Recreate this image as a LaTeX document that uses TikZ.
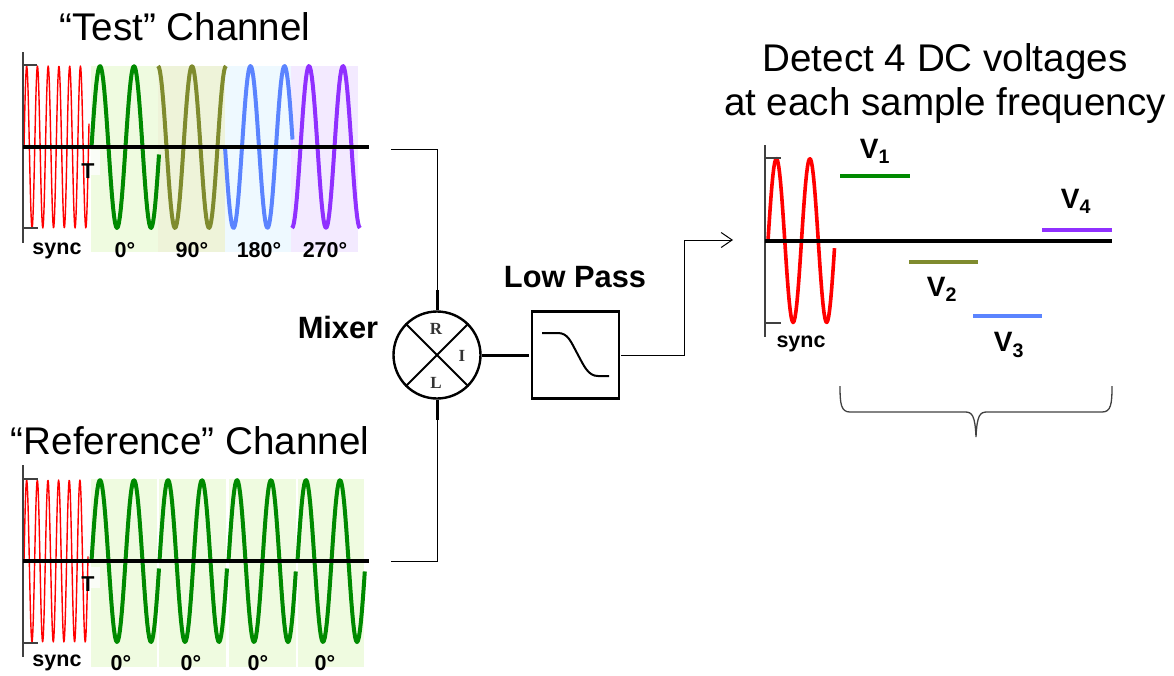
\documentclass[tikz,border=0pt]{standalone}
\usepackage{fontspec}
\setmainfont{Liberation Sans}
\newfontfamily\portfont{Liberation Serif}
\usetikzlibrary{arrows.meta,positioning}
\definecolor{wgreen}{HTML}{008A00}
\definecolor{wolive}{HTML}{7F8B2E}
\definecolor{wblue}{HTML}{5B84FF}
\definecolor{wpurple}{HTML}{9030FF}
\definecolor{bgreen}{HTML}{EFFBE0}
\definecolor{bolive}{HTML}{EEF3D9}
\definecolor{bblue}{HTML}{EEF9FF}
\definecolor{bpurple}{HTML}{F3EAFF}
\definecolor{axgray}{HTML}{404040}

\begin{document}
\begin{tikzpicture}[x=1pt,y=-1pt,
	title/.style = {font=\fontsize{38.6}{38.6}\selectfont, inner sep=0pt},
	head/.style = {font=\fontsize{30.8}{30.8}\selectfont\bfseries, inner sep=0pt},
	tag/.style = {font=\fontsize{21.5}{21.5}\selectfont\bfseries, inner sep=0pt},
	volt/.style = {font=\fontsize{28}{28}\selectfont\bfseries, inner sep=0pt},
	port/.style = {font=\fontsize{17}{17}\selectfont\portfont\bfseries, text=black!80, inner sep=0pt},
	wave/.style = {line width=4pt, line join=round},
	sync/.style = {red, line width=1.4pt, line join=round},
	axisv/.style = {axgray, line width=1.5pt},
	axish/.style = {black, line width=4pt},
	wire/.style = {black, line width=1pt},
	stub/.style = {black, line width=3pt},
	level/.style = {line width=3.8pt},
	mixer/.style = {circle, draw=black, line width=2.4pt, minimum size=87pt, inner sep=0pt},
	filter/.style = {rectangle, draw=black, line width=2.4pt, minimum size=87pt, inner sep=0pt},
]
\useasboundingbox (0,0) rectangle (1174,675);

% test channel
\foreach \xa/\xb/\col in {91/158/bgreen,158/225/bolive,225/291/bblue,291/358/bpurple}
	\fill[\col] (\xa,66) rectangle (\xb,252);
\fill[white,opacity=.75] (76,150) rectangle (100,175);
\draw[sync] plot[domain=24:89,samples=160] (\x,{147-81*sin((\x-24)/10.75*360)});
\foreach \xa/\xb/\ph/\col in {91.5/159/0/wgreen,158/226/90/wolive,225/292.5/180/wblue,292/360/270/wpurple}
	\draw[wave,\col] plot[domain=\xa:\xb,samples=70] (\x,{147-81*sin((\x-\xa)/34*360+\ph)});
\draw[axisv] (23,52) -- (23,243);
\draw[axisv] (23,65) -- (37,65);
\draw[axisv] (23,228) -- (38,228);
\draw[axish] (23,147) -- (369,147);
\node[tag] (testT) at (88,171) {T};
\node[tag] (testsync) at (57,251) {sync};
\foreach \xa/\lab/\nm in {125/0/a,192/90/b,259/180/c,325/270/d}
	\node[tag] (test\nm) at (\xa,250) {\lab°};
\node[title] (testtitle) at (185,27) {“Test” Channel};

% reference channel
\foreach \xa/\xb in {91/157,159/226,229/296,298/364}
	\fill[bgreen] (\xa,479) rectangle (\xb,667);
\fill[white,opacity=.75] (75,567) rectangle (100,588);
\draw[sync] plot[domain=24:88,samples=160] (\x,{561-81*sin((\x-24)/10.65*360)});
\foreach \xa/\xb in {91.5/159,159.5/227,228.5/295.8,297.5/364.8}
	\draw[wave,wgreen] plot[domain=\xa:\xb,samples=70] (\x,{561-81*sin((\x-\xa)/34*360)});
\draw[axisv] (23,465) -- (23,657);
\draw[axisv] (23,479) -- (38,479);
\draw[axisv] (23,643) -- (38,643);
\draw[axish] (23,561) -- (369,561);
\node[tag] (refT) at (88,584) {T};
\node[tag] (refsync) at (57,663) {sync};
\foreach \xa/\nm in {121/a,191/b,258/c,325/d}
	\node[tag] (ref\nm) at (\xa,663) {0°};
\node[title] (reftitle) at (190,441) {“Reference” Channel};

% mixer and filter
\node[mixer] (mix) at (437,355) {};
\draw[line width=2pt] (mix.45) -- (mix.225);
\draw[line width=2pt] (mix.135) -- (mix.315);
\node[port] (portR) at (436,329) {R};
\node[port] (portI) at (462,356) {I};
\node[port] (portL) at (436,383) {L};
\node[head] (mixlabel) at (338,327) {Mixer};
\node[filter] (lowpass) at (575.5,355) {};
\node[head] (passlabel) at (575,277) {Low Pass};
\draw[line width=2pt] (542,333) -- (558,333) .. controls (568,333) and (571,342) .. (577,353) .. controls (584,366) and (588,376) .. (598,376) -- (609,376);

\coordinate (rtop) at (437,290);
\coordinate (ltop) at (437,420);
\coordinate (rend) at (391,149);
\coordinate (lend) at (391,561);
\coordinate (iend) at (529,355);
\coordinate (outa) at (621,355);
\coordinate (outb) at (733,240);
\draw[stub] (mix.north) -- (rtop);
\draw[stub] (mix.south) -- (ltop);
\draw[stub] (mix.east) -- (iend);
\draw[wire] (rtop) |- (rend);
\draw[wire] (ltop) |- (lend);
\draw[wire,-{Straight Barb[length=11pt,width=15pt]}] (outa) -| (684,240) -- (outb);

% detected voltages
\node[title] (dettop) at (945,62) {Detect 4 DC voltages};
\node[title] (detbot) at (945,106) {at each sample frequency};
\draw[red,line width=3.6pt,line join=round] plot[domain=768:834.5,samples=70] (\x,{240.5-82*sin((\x-768)/33.5*360)});
\draw[axisv] (765,145) -- (765,337);
\draw[axisv] (765,158) -- (781,158);
\draw[axisv] (765,323) -- (781,323);
\draw[axish] (765,240.5) -- (1112,240.5);
\node[tag] (detsync) at (801,344) {sync};
\draw[level,wgreen] (840,176) -- (910,176);
\draw[level,wolive] (909,262) -- (978,262);
\draw[level,wblue] (973,316) -- (1042,316);
\draw[level,wpurple] (1042,230) -- (1112,230);
\node[volt] (v1) at (875,151) {V\textsubscript{1}};
\node[volt] (v2) at (942,289) {V\textsubscript{2}};
\node[volt] (v3) at (1009,345) {V\textsubscript{3}};
\node[volt] (v4) at (1076,201) {V\textsubscript{4}};
\draw[axgray,line width=1.3pt] (840,386) .. controls (840,404) and (841,412) .. (850,412) -- (965,412) .. controls (972,412) and (975,415) .. (976,437) .. controls (977,415) and (980,412) .. (987,412) -- (1102,412) .. controls (1111,412) and (1112,404) .. (1112,386);
\end{tikzpicture}
\end{document}
